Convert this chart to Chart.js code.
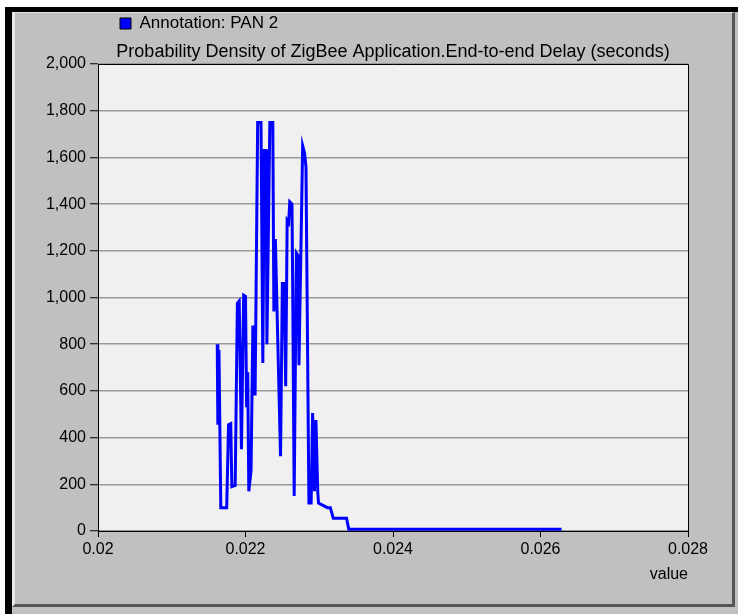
<!DOCTYPE html>
<html lang="en">
<head>
  <meta charset="UTF-8">
  <title>Probability Density of ZigBee Application.End-to-end Delay</title>
  <script src="https://cdn.jsdelivr.net/npm/chart.js"></script>
  <style>
    body { margin: 0; background: #fff; width: 738px; height: 614px; overflow: hidden; }
    #outer {
      position: absolute; left: 5px; top: 7px; width: 733px; height: 607px;
      box-sizing: border-box; background: #c0c0c0;
      border-left: 7px solid #000; border-top: 5px solid #000;
    }
    #inner {
      position: absolute; left: 12px; top: 12px; width: 723px; height: 595px;
      box-sizing: border-box;
      border-left: 3px solid #e8e8e8; border-top: 1px solid #e0e0e0;
      border-right: 3px solid #555; border-bottom: 3px solid #555;
    }
    #wrap { position: absolute; left: 0; top: 0; width: 738px; height: 614px; }
  </style>
</head>
<body>
  <div id="outer"></div>
  <div id="inner"></div>
  <div id="wrap"><canvas id="pdfChart" width="738" height="614"></canvas></div>

  <script>
    // values
    const seriesName = "Annotation: PAN 2";
    const delay = [
      0.021617, 0.021625, 0.021640, 0.021665, 0.021745, 0.021770, 0.021800, 0.021815,
      0.021860, 0.021890, 0.021915, 0.021945, 0.021975, 0.022000, 0.022015, 0.022030,
      0.022045, 0.022075, 0.022100, 0.022130, 0.022165, 0.022210, 0.022235, 0.022255,
      0.022280, 0.022290, 0.022330, 0.022370, 0.022385, 0.022405, 0.022475, 0.022500,
      0.022525, 0.022545, 0.022565, 0.022585, 0.022600, 0.022630, 0.022640, 0.022660,
      0.022690, 0.022710, 0.022725, 0.022775, 0.022800, 0.022820, 0.022860, 0.022890,
      0.022910, 0.022935, 0.022955, 0.022980, 0.022990, 0.023050, 0.023110, 0.023150,
      0.023190, 0.023370, 0.023400, 0.026285
    ];
    const density = [
      800, 455, 775, 100, 100, 455, 460, 190,
      195, 975, 985, 350, 1010, 1005, 530, 680,
      170, 260, 880, 580, 1750, 1750, 720, 1630,
      1630, 800, 1750, 1750, 940, 1250, 320, 1060,
      1060, 620, 1330, 1320, 1410, 1400, 1045, 150,
      1190, 1180, 710, 1650, 1620, 1560, 120, 120,
      505, 170, 475, 165, 120, 110, 100, 100,
      55, 55, 8, 8
    ];
    const xMin = 0.02, xMax = 0.028, xStep = 0.002;
    const yMin = 0, yMax = 2000, yStep = 200;

    Chart.defaults.font.family = '"Liberation Sans", Arial, sans-serif';
    Chart.defaults.font.size = 16;
    Chart.defaults.color = "#000";

    // plot background, dark frame on top/right, legend nudge
    const plotFrame = {
      id: "plotFrame",
      afterLayout(chart) {
        chart.legend.left += 9;
        chart.legend.right += 9;
      },
      beforeDraw(chart) {
        const { ctx, chartArea: a } = chart;
        ctx.save();
        ctx.fillStyle = "#f0f0f0";
        ctx.fillRect(a.left, a.top, a.right - a.left, a.bottom - a.top);
        ctx.restore();
      },
      afterDraw(chart) {
        const { ctx, chartArea: a } = chart;
        ctx.save();
        ctx.strokeStyle = "#000";
        ctx.lineWidth = 1;
        ctx.beginPath();
        ctx.moveTo(a.left, a.top + 0.5);
        ctx.lineTo(a.right + 0.5, a.top + 0.5);
        ctx.lineTo(a.right + 0.5, a.bottom);
        ctx.stroke();
        ctx.restore();
      }
    };

    new Chart(document.getElementById("pdfChart"), {
      type: "line",
      data: {
        datasets: [{
          label: seriesName,
          data: delay.map((x, i) => ({ x: x, y: density[i] })),
          borderColor: "#0000ff",
          backgroundColor: "#0000ff",
          borderWidth: 3,
          pointRadius: 0,
          tension: 0
        }]
      },
      options: {
        responsive: false,
        animation: false,
        locale: "en-US",
        layout: { padding: { left: 0, right: 50, top: 2, bottom: 30 } },
        plugins: {
          legend: {
            position: "top",
            align: "start",
            fullSize: false,
            weight: 3000,
            labels: {
              boxWidth: 11,
              boxHeight: 11,
              padding: 13,
              font: { size: 17 },
              generateLabels(chart) {
                return Chart.defaults.plugins.legend.labels.generateLabels(chart).map(l => {
                  l.fillStyle = "#0000ff";
                  l.strokeStyle = "#000";
                  l.lineWidth = 1;
                  return l;
                });
              }
            }
          },
          title: {
            display: true,
            text: "Probability Density of ZigBee Application.End-to-end Delay (seconds)",
            fullSize: false,
            font: { size: 18, weight: "normal", lineHeight: 1 },
            padding: { top: 1, bottom: 3 }
          },
          tooltip: { enabled: false }
        },
        scales: {
          x: {
            type: "linear",
            min: xMin,
            max: xMax,
            afterFit(s) { s.height = 53; },
            ticks: {
              stepSize: xStep,
              padding: 3,
              callback: v => String(+v.toFixed(3))
            },
            grid: { drawOnChartArea: false, drawTicks: true, tickLength: 6, tickColor: "#000" },
            border: { color: "#000", width: 1 },
            title: { display: true, text: "value", align: "end", padding: { top: 0, bottom: 0 } }
          },
          y: {
            min: yMin,
            max: yMax,
            afterFit(s) { s.width = 98; },
            ticks: { stepSize: yStep, padding: 4 },
            grid: { color: "#999999", lineWidth: 1.5, tickColor: "#000", tickLength: 8, tickWidth: 1 },
            border: { color: "#000", width: 1 }
          }
        }
      },
      plugins: [plotFrame]
    });
  </script>
</body>
</html>
